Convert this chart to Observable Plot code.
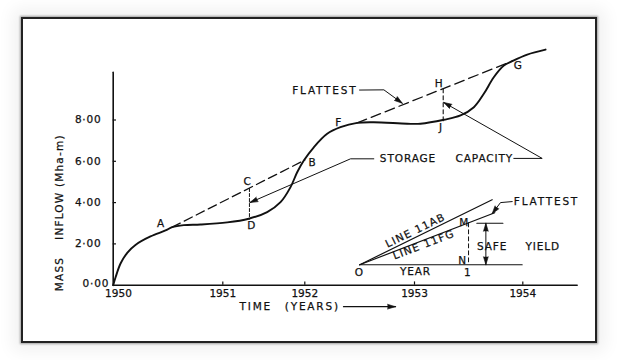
<!DOCTYPE html>
<html>
<head>
<meta charset="utf-8">
<script src="https://cdn.jsdelivr.net/npm/d3@7"></script>
<script src="https://cdn.jsdelivr.net/npm/@observablehq/plot@0.6"></script>
<style>
html,body{margin:0;padding:0;background:#fff;}
#wrap{position:relative;width:620px;height:360px;overflow:hidden;background:#fff;}
#frame{position:absolute;left:21px;top:17px;width:576px;height:326px;box-sizing:border-box;border:2.5px solid #222;
  box-shadow:0 0 2px 1px rgba(0,0,0,.35), 0 0 16px 8px rgba(0,0,0,.06);pointer-events:none;}
svg text{font-family:"DejaVu Sans",sans-serif;stroke:#111;stroke-width:0.25px;}
g[aria-description="cap"] text{letter-spacing:0.9px;}
g[aria-description="line"] text{letter-spacing:1.2px;}
g[aria-description="wide"] text{letter-spacing:1.8px;}
g[aria-description="num"] text{letter-spacing:0.8px;}
</style>
</head>
<body>
<div id="wrap"><div id="chart"></div><div id="frame"></div></div>
<script>
// ---- axes ----
const yearTicks = [1950, 1951, 1952, 1953, 1954];
const yearLabels = ["1950", "1951", "1952", "1953", "1954"];
const massTicks = [0, 2, 4, 6, 8];
const massLabels = ["0·00", "2·00", "4·00", "6·00", "8·00"];

// ---- mass inflow curve ----
const curveYear = [1950, 1950.021, 1950.067, 1950.13, 1950.203, 1950.34, 1950.477, 1950.538, 1950.644, 1950.797,
  1951.054, 1951.317, 1951.541, 1951.704, 1951.826, 1951.907, 1951.988, 1952.082, 1952.204, 1952.325,
  1952.478, 1952.629, 1952.933, 1953.055, 1953.271, 1953.425, 1953.548, 1953.64, 1953.732, 1953.825,
  1953.902, 1954.041, 1954.21];
const curveMass = [0, 0.37, 1.05, 1.58, 1.95, 2.36, 2.65, 2.81, 2.91, 2.94,
  3.04, 3.22, 3.54, 4.02, 4.75, 5.47, 6.04, 6.68, 7.33, 7.65,
  7.86, 7.89, 7.82, 7.82, 8.01, 8.22, 8.62, 9.27, 10.07, 10.64,
  10.85, 11.17, 11.41];

// ---- tangent (flattest) lines and storage ordinates ----
const lineABYear = [1950.538, 1952.0], lineABMass = [2.81, 6.06];
const lineFGYear = [1952.478, 1953.902], lineFGMass = [7.86, 10.85];
const cdYear = [1951.325, 1951.325], cdMass = [4.68, 3.2];
const hjYear = [1953.265, 1953.265], hjMass = [9.51, 7.85];

// ---- point letters ----
const pointNames = ["A", "B", "C", "D", "F", "G", "H", "J"];
const pointYear = [1950.432, 1952.067, 1951.298, 1951.346, 1952.305, 1953.954, 1953.224, 1953.24];
const pointMass = [3.0, 5.96, 5.02, 2.89, 7.89, 10.64, 9.78, 7.65];

// ---- leaders ----
const flatLeaderYear = [1952.499, 1952.721, 1952.889], flatLeaderMass = [9.45, 9.46, 8.81];
const storLeaderYear = [1952.629, 1952.417, 1951.33], storLeaderMass = [6.12, 6.12, 4.0];
const capLeaderYear = [1953.917, 1954.179, 1953.27], capLeaderMass = [6.14, 6.14, 8.85];
const timeArrowYear = [1952.353, 1952.827], timeArrowMass = [-1.04, -1.04];

// ---- inset (safe yield) ----
const insetBaseYear = [1952.501, 1953.994], insetBaseMass = [0.99, 0.99];
const insetABYear = [1952.501, 1953.717], insetABMass = [0.99, 4.14];
const insetFGYear = [1952.501, 1953.741], insetFGMass = [0.99, 3.51];
const mnYear = [1953.499, 1953.499], mnMass = [3.02, 0.99];
const yieldBarYear = [1953.576, 1953.816], yieldBarMass = [3.0, 3.0];
const yieldArrowYear = [1953.659, 1953.659], yieldArrowMass = [3.0, 0.99];
const insetLeaderYear = [1953.902, 1953.794, 1953.717], insetLeaderMass = [4.05, 4.0, 3.46];

// ---- arrowheads: from -> tip ----
const arrowFromYear = [1952.721, 1952.417, 1954.179, 1952.353, 1953.794, 1953.659, 1953.659];
const arrowFromMass = [9.46, 6.12, 6.14, -1.04, 4.0, 0.99, 3.0];
const arrowTipYear = [1952.889, 1951.33, 1953.27, 1952.827, 1953.717, 1953.659, 1953.659];
const arrowTipMass = [8.81, 4.0, 8.85, -1.04, 3.46, 3.0, 0.99];

// ---- texts ----
const capTexts = ["STORAGE", "CAPACITY", "SAFE", "YIELD"];          // left-aligned
const capYear = [1952.684, 1953.379, 1953.576, 1954.025];
const capMass = [6.12, 6.12, 1.89, 1.89];
const timeTexts = ["TIME", "(YEARS)"];                               // left-aligned
const timeYear = [1951.204, 1951.756];
const timeMass = [-1.06, -1.06];
const yearText = ["YEAR"], yearTextYear = [1953.009], yearTextMass = [0.68];   // centred
const flatTopText = ["FLATTEST"], flatTopYear = [1952.48], flatTopMass = [9.44]; // right-aligned
const flatInsetText = ["FLATTEST"], flatInsetYear = [1953.917], flatInsetMass = [4.07]; // left-aligned
const insetMarks = ["O", "1", "N", "M"];
const insetMarkYear = [1952.492, 1953.487, 1953.441, 1953.456];
const insetMarkMass = [0.63, 0.63, 1.2, 3.05];
const yTitleParts = ["MASS", "INFLOW (Mha-m)"];
const yTitleMass = [0.54, 4.75];

const xOpts = {type: "linear", domain: [1950, 1951, 1952, 1953, 1954], range: [112.7, 222.3, 304.3, 414, 522.3]};
const yOpts = {type: "linear", domain: [0, 8], range: [284.7, 119.5]};
const sx = Plot.scale({x: xOpts}), sy = Plot.scale({y: yOpts});

const heads = arrowTipYear.map((t, i) => {
  const dx = sx.apply(t) - sx.apply(arrowFromYear[i]);
  const dy = sy.apply(arrowTipMass[i]) - sy.apply(arrowFromMass[i]);
  return {x: t, y: arrowTipMass[i], rotate: Math.atan2(dx, -dy) * 180 / Math.PI};
});

const INK = "#111";
function seg(X, Y, o = {}) {
  return Plot.line(X.map((x, i) => [x, Y[i]]), {x: d => d[0], y: d => d[1], stroke: INK, strokeWidth: 1, ...o});
}
function txt(T, X, Y, o = {}) {
  return Plot.text(T, {x: X, y: Y, text: d => d, fill: INK, fontSize: 10.5, ...o});
}

const chart = Plot.plot({
  width: 620, height: 360,
  x: {...xOpts, axis: null},
  y: {...yOpts, axis: null},
  marks: [
    // axes
    seg([1950, 1950], [0, 10.31], {strokeWidth: 1.6}),
    seg([1950, 1954.502], [0, 0], {strokeWidth: 1.6}),
    Plot.ruleX(yearTicks.slice(1), {x: d => d, y1: 0, y2: 0.16, stroke: INK, strokeWidth: 1.2}),
    Plot.ruleY(massTicks.slice(1), {y: d => d, x1: 1950, x2: 1950.03, stroke: INK, strokeWidth: 1.2}),
    txt(yearLabels.slice(1), yearTicks.slice(1), yearTicks.slice(1).map(() => -0.39)),
    txt([yearLabels[0]], [1950.048], [-0.39]),
    txt(massLabels.slice(1), massTicks.slice(1).map(() => 1949.893), massTicks.slice(1), {textAnchor: "end", ariaDescription: "num"}),
    txt([massLabels[0]], [1949.963], [0.06], {textAnchor: "end", ariaDescription: "num"}),
    txt(yTitleParts, [1949.51, 1949.51], yTitleMass, {rotate: -90, ariaDescription: "line"}),

    // mass curve
    seg(curveYear, curveMass, {strokeWidth: 1.9, curve: "catmull-rom"}),
    // flattest lines
    seg(lineABYear, lineABMass, {strokeWidth: 1.3, strokeDasharray: "9,4.5"}),
    seg(lineFGYear, lineFGMass, {strokeWidth: 1.3, strokeDasharray: "10,5"}),
    seg(cdYear, cdMass, {strokeWidth: 1, strokeDasharray: "3,2"}),
    seg(hjYear, hjMass, {strokeWidth: 1.1, strokeDasharray: "4,3"}),
    txt(pointNames, pointYear, pointMass),

    // leaders
    seg(flatLeaderYear, flatLeaderMass),
    seg(storLeaderYear, storLeaderMass),
    seg(capLeaderYear, capLeaderMass),
    seg(timeArrowYear, timeArrowMass, {strokeWidth: 1.3}),

    // inset
    seg(insetBaseYear, insetBaseMass, {strokeWidth: 1.2}),
    seg(insetABYear, insetABMass, {strokeWidth: 1.2}),
    seg(insetFGYear, insetFGMass, {strokeWidth: 1.2}),
    seg(mnYear, mnMass, {strokeDasharray: "4,3"}),
    seg(yieldBarYear, yieldBarMass, {strokeWidth: 1.2}),
    seg(yieldArrowYear, yieldArrowMass),
    seg(insetLeaderYear, insetLeaderMass),
    txt(["LINE 11AB"], [1953.009], [2.65], {rotate: -26, ariaDescription: "line"}),
    txt(["LINE 11FG"], [1953.086], [1.96], {rotate: -21, ariaDescription: "line"}),
    txt(insetMarks, insetMarkYear, insetMarkMass),

    // captions
    txt(capTexts, capYear, capMass, {textAnchor: "start", ariaDescription: "cap"}),
    txt(timeTexts, timeYear, timeMass, {textAnchor: "start", ariaDescription: "wide"}),
    txt(yearText, yearTextYear, yearTextMass, {ariaDescription: "cap"}),
    txt(flatTopText, flatTopYear, flatTopMass, {textAnchor: "end", ariaDescription: "wide"}),
    txt(flatInsetText, flatInsetYear, flatInsetMass, {textAnchor: "start", ariaDescription: "wide"}),

    // arrowheads
    Plot.vector(heads, {x: "x", y: "y", rotate: "rotate", length: 8, anchor: "end", shape: "spike", r: 2.4,
      fill: INK, stroke: INK, strokeWidth: 0.6})
  ]
});
document.getElementById("chart").appendChild(chart);
</script>
</body>
</html>
